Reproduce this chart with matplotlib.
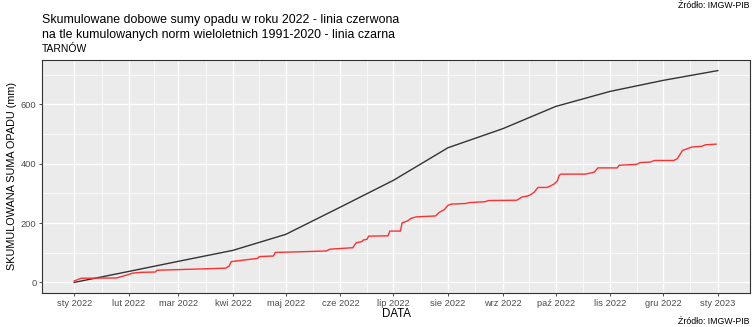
import matplotlib
matplotlib.use("Agg")
import matplotlib.pyplot as plt
import matplotlib.dates as mdates
import pandas as pd
from matplotlib.ticker import FixedLocator

plt.rcParams['font.family'] = ['Liberation Sans Narrow', 'Liberation Sans', 'DejaVu Sans']

# ---- data ----
norm_dates = ["2022-01-01", "2022-02-01", "2022-03-01", "2022-04-01", "2022-05-01",
              "2022-06-01", "2022-07-01", "2022-08-01", "2022-09-01", "2022-10-01",
              "2022-11-01", "2022-12-01", "2023-01-01"]
norm_cum = [0, 37, 71, 108, 162, 254, 344, 454, 518, 593, 644, 681, 714]

obs_day = [0, 4, 24, 30, 33, 38, 46, 47, 86, 88, 89, 104, 105, 113, 114, 127, 143, 145,
           158, 160, 163, 164, 166, 167, 178, 179, 185, 186, 189, 191, 194, 205, 207,
           210, 212, 214, 222, 224, 233, 235, 251, 254, 257, 259, 261, 263, 268, 270,
           272, 274, 275, 276, 290, 293, 295, 297, 308, 309, 319, 321, 327, 329, 340,
           342, 345, 347, 350, 356, 358, 364]
obs_cum = [5, 14, 15, 25, 31, 34, 35, 41, 48, 56, 70, 81, 87, 89, 101, 103, 106, 112,
           117, 134, 137, 143, 145, 156, 157, 173, 173, 201, 207, 216, 221, 224, 236,
           246, 260, 264, 266, 269, 272, 276, 277, 288, 291, 296, 305, 320, 320, 325,
           331, 342, 361, 365, 365, 369, 372, 386, 386, 395, 398, 404, 406, 411, 411,
           417, 445, 449, 456, 459, 464, 466]

tick_dates = ["2022-01-01", "2022-02-01", "2022-03-01", "2022-04-01", "2022-05-01",
              "2022-06-01", "2022-07-01", "2022-08-01", "2022-09-01", "2022-10-01",
              "2022-11-01", "2022-12-01", "2023-01-01"]
tick_labels = ["sty 2022", "lut 2022", "mar 2022", "kwi 2022", "maj 2022", "cze 2022",
               "lip 2022", "sie 2022", "wrz 2022", "paź 2022", "lis 2022", "gru 2022",
               "sty 2023"]
y_ticks = [0, 200, 400, 600]

title_lines = ["Skumulowane dobowe sumy opadu w roku 2022 - linia czerwona",
               "na tle kumulowanych norm wieloletnich 1991-2020 - linia czarna"]
subtitle = "TARNÓW"
source = "Źródło: IMGW-PIB"

# ---- plot ----
W, H = 752, 327
fig = plt.figure(figsize=(W / 100, H / 100), dpi=100)
ax = fig.add_axes([42 / W, 1 - 293 / H, (750 - 42) / W, (293 - 60) / H])

start = pd.Timestamp("2022-01-01")
nd = mdates.date2num(pd.to_datetime(norm_dates))
od = mdates.date2num([start + pd.Timedelta(days=d) for d in obs_day])
td = mdates.date2num(pd.to_datetime(tick_dates))

ax.set_facecolor("#EBEBEB")
minor_x = (td[:-1] + td[1:]) / 2
ax.xaxis.set_major_locator(FixedLocator(td))
ax.xaxis.set_minor_locator(FixedLocator(minor_x))
ax.set_xticklabels(tick_labels)
ax.yaxis.set_major_locator(FixedLocator(y_ticks))
ax.yaxis.set_minor_locator(FixedLocator([100, 300, 500, 700]))
ax.grid(True, which="major", color="white", linewidth=1.0)
ax.grid(True, which="minor", color="white", linewidth=0.5)
ax.set_axisbelow(True)
ax.tick_params(which="minor", length=0)
ax.tick_params(which="major", length=2.5, color="#333333", width=0.6,
               labelsize=6.7, labelcolor="#4D4D4D", pad=1.5)

ax.plot(nd, norm_cum, color="#333333", linewidth=1.0)
ax.plot(od, obs_cum, color="#FF3030", linewidth=1.0)

span = td[-1] - td[0]
ax.set_xlim(td[0] - 0.05 * span, td[-1] + 0.05 * span)
ymax = max(norm_cum)
ax.set_ylim(-0.05 * ymax, ymax * 1.05)

for s in ax.spines.values():
    s.set_color("#333333")
    s.set_linewidth(0.8)

ax.set_xlabel("DATA", fontsize=8.3, labelpad=0.5)
ax.set_ylabel("SKUMULOWANA SUMA OPADU (mm)", fontsize=7.8, labelpad=3)

fig.text(42 / W, 1 - 23 / H, title_lines[0], fontsize=8.9, va="baseline")
fig.text(42 / W, 1 - 38 / H, title_lines[1], fontsize=8.9, va="baseline")
fig.text(42 / W, 1 - 52 / H, subtitle, fontsize=7.5, va="baseline")
fig.text(750 / W, 1 - 8 / H, source, fontsize=6.3, ha="right", va="baseline")
fig.text(750 / W, 1 - 324 / H, source, fontsize=6.3, ha="right", va="baseline")

fig.savefig("out.png", dpi=100)
